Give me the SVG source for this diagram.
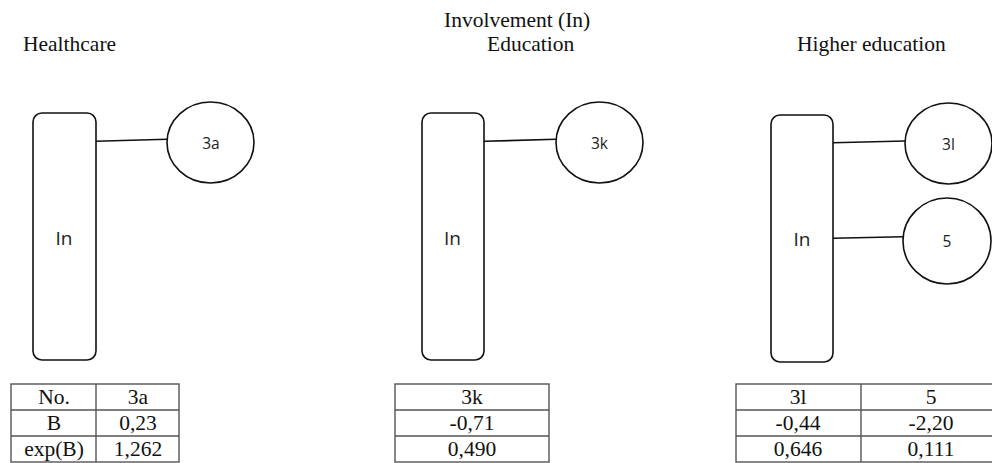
<svg xmlns="http://www.w3.org/2000/svg" width="992" height="463" viewBox="0 0 992 463">
<style>
.title{font-family:"Liberation Serif","Times New Roman",serif;font-size:21.5px;fill:#111}
.cell{font-family:"Liberation Serif","Times New Roman",serif;font-size:21.5px;fill:#111;text-anchor:middle}
.lbl{font-family:"Open Sans","Noto Sans",sans-serif;fill:#222;text-anchor:middle}
.box{fill:#fff;stroke:#111;stroke-width:1.6}
.tbl{fill:none;stroke:#555;stroke-width:1.4}
.conn{stroke:#111;stroke-width:1.6;fill:none}
</style>
<rect width="992" height="463" fill="#fff"/>
<g id="titles">
<text class="title" x="23" y="51">Healthcare</text>
<text class="title" x="444" y="27">Involvement (In)</text>
<text class="title" x="487" y="51">Education</text>
<text class="title" x="797" y="51">Higher education</text>
</g>
<g id="connectors">
<line class="conn" x1="96" y1="141.3" x2="167" y2="139.3"/>
<line class="conn" x1="484" y1="141.3" x2="556" y2="139.3"/>
<line class="conn" x1="833" y1="142.7" x2="905" y2="141"/>
<line class="conn" x1="833" y1="238.3" x2="903" y2="236.7"/>
</g>
<g id="in-healthcare">
<rect class="box" x="33" y="113" width="63" height="247" rx="9"/>
<text class="lbl" x="64" y="245" font-size="19">In</text>
</g>
<g id="node-3a">
<ellipse class="box" cx="210.5" cy="142.5" rx="43.5" ry="40.5"/>
<text class="lbl" x="211" y="149" font-size="15.5">3a</text>
</g>
<g id="in-education">
<rect class="box" x="422" y="113" width="62" height="247" rx="9"/>
<text class="lbl" x="452.5" y="245" font-size="19">In</text>
</g>
<g id="node-3k">
<ellipse class="box" cx="599.5" cy="142.5" rx="43.5" ry="40.5"/>
<text class="lbl" x="599.5" y="149" font-size="15.5">3k</text>
</g>
<g id="in-higher">
<rect class="box" x="771" y="115" width="62" height="247" rx="9"/>
<text class="lbl" x="802" y="246" font-size="19">In</text>
</g>
<g id="node-3l">
<ellipse class="box" cx="948.5" cy="143.5" rx="43.5" ry="40.5"/>
<text class="lbl" x="948.5" y="150" font-size="15.5">3l</text>
</g>
<g id="node-5">
<ellipse class="box" cx="947" cy="241" rx="44" ry="43"/>
<text class="lbl" x="947" y="247" font-size="15.5">5</text>
</g>
<g id="table-healthcare">
<rect class="tbl" x="11" y="384" width="168" height="78"/>
<line class="tbl" x1="11" y1="410" x2="179" y2="410"/>
<line class="tbl" x1="11" y1="436" x2="179" y2="436"/>
<line class="tbl" x1="96" y1="384" x2="96" y2="462"/>
<text class="cell" x="54" y="404">No.</text>
<text class="cell" x="138" y="404">3a</text>
<text class="cell" x="54" y="430">B</text>
<text class="cell" x="138" y="430">0,23</text>
<text class="cell" x="54" y="456">exp(B)</text>
<text class="cell" x="138" y="456">1,262</text>
</g>
<g id="table-education">
<rect class="tbl" x="395" y="384" width="154" height="78"/>
<line class="tbl" x1="395" y1="410" x2="549" y2="410"/>
<line class="tbl" x1="395" y1="436" x2="549" y2="436"/>
<text class="cell" x="472" y="404">3k</text>
<text class="cell" x="472" y="430">-0,71</text>
<text class="cell" x="472" y="456">0,490</text>
</g>
<g id="table-higher">
<rect class="tbl" x="736" y="384" width="266" height="78"/>
<line class="tbl" x1="736" y1="410" x2="1002" y2="410"/>
<line class="tbl" x1="736" y1="436" x2="1002" y2="436"/>
<line class="tbl" x1="861" y1="384" x2="861" y2="462"/>
<text class="cell" x="798" y="404">3l</text>
<text class="cell" x="931" y="404">5</text>
<text class="cell" x="798" y="430">-0,44</text>
<text class="cell" x="931" y="430">-2,20</text>
<text class="cell" x="798" y="456">0,646</text>
<text class="cell" x="931" y="456">0,111</text>
</g>
</svg>
